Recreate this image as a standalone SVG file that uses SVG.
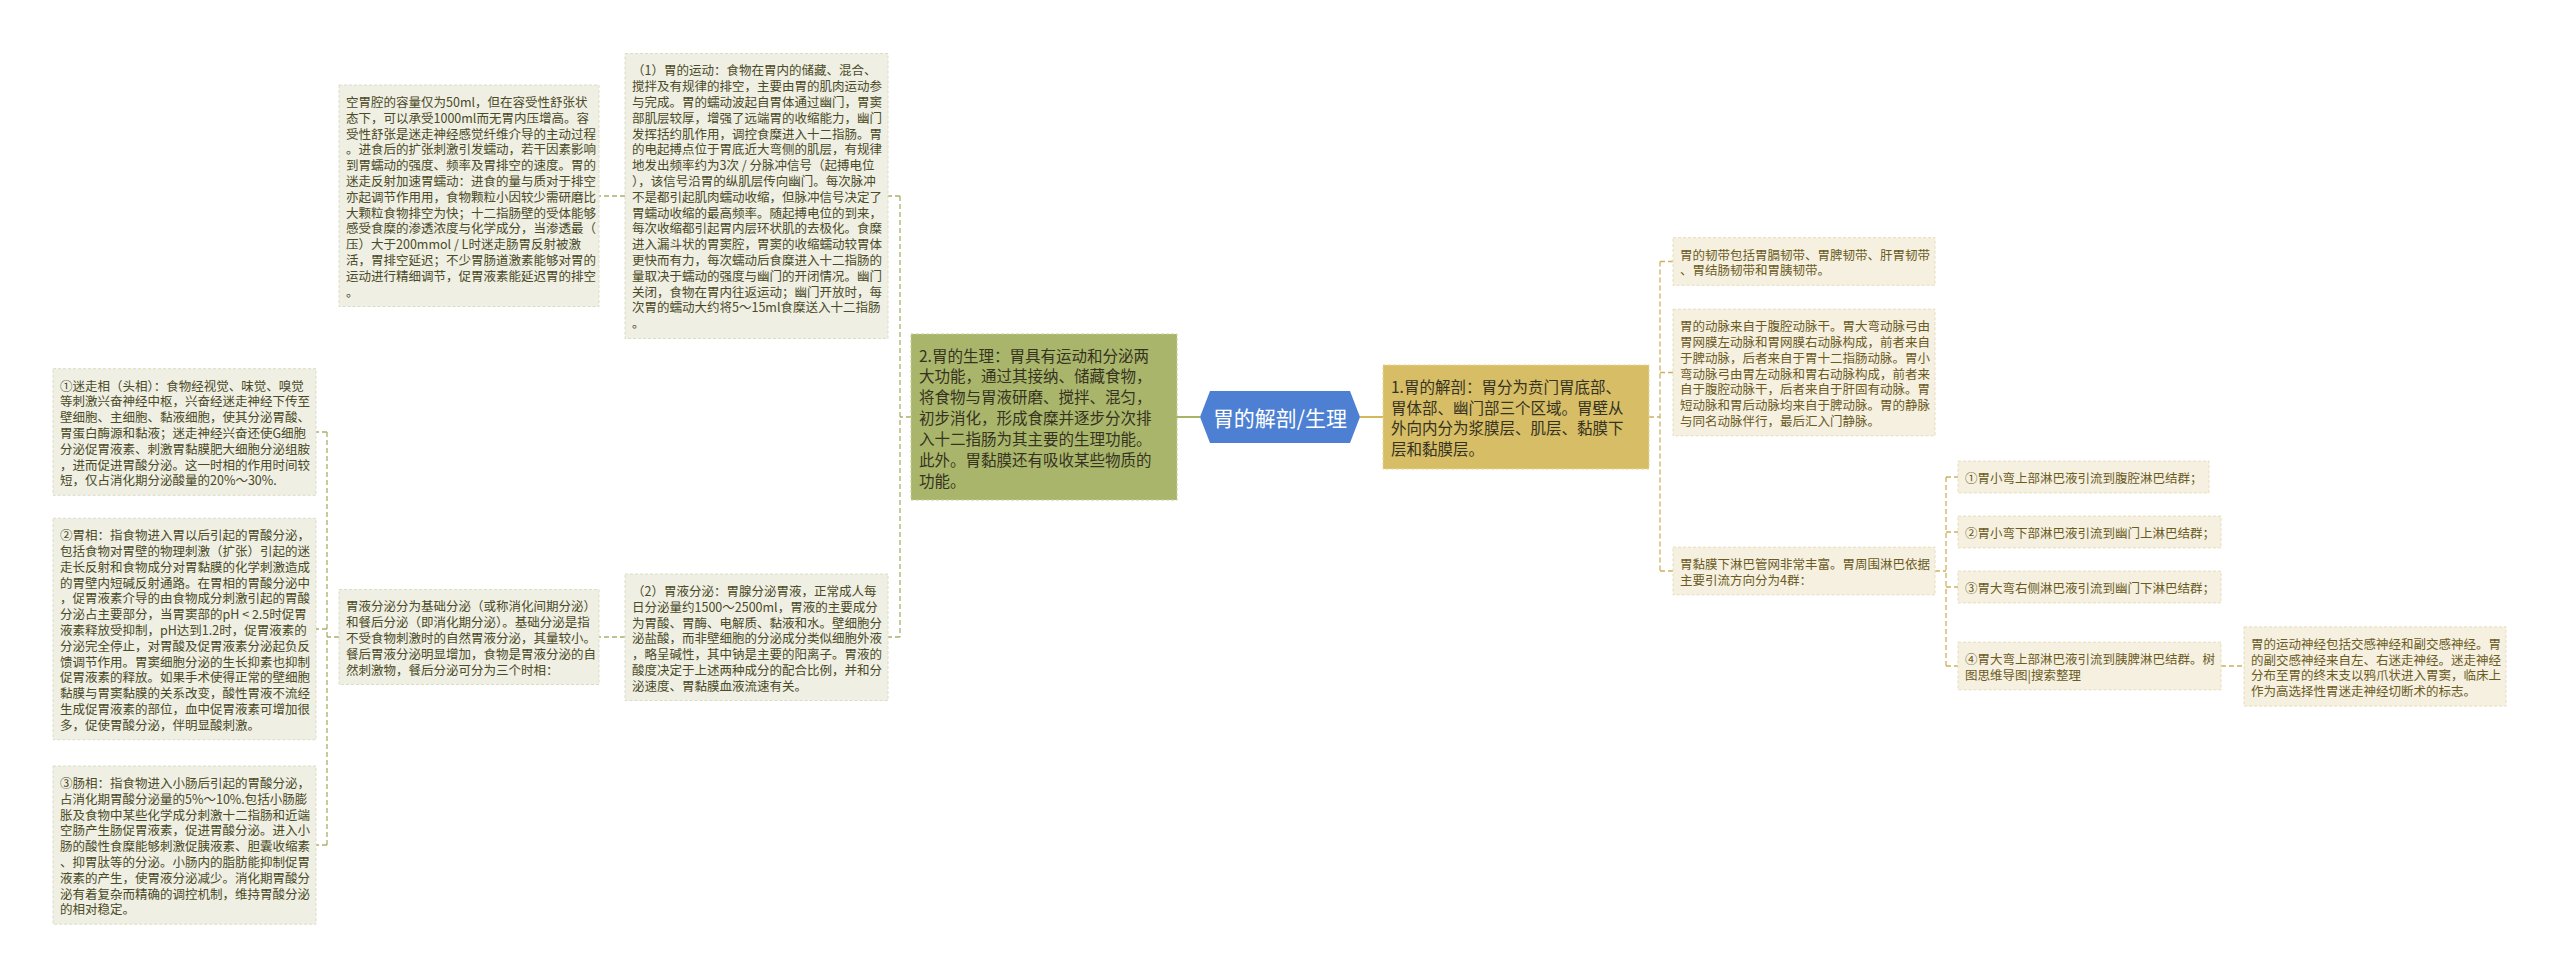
<svg xmlns="http://www.w3.org/2000/svg" width="2560" height="977" viewBox="0 0 2560 977">
<style>
text{font-family:"Noto Sans CJK SC","Noto Sans",sans-serif;dominant-baseline:central}
.s{font-size:12.5px}
.l{fill:#4a4a26}
.r{fill:#6b5b1f}
.big{font-size:15.5px;fill:#35331f}
.bl{fill:#efefe3;stroke:#dcdcc6;stroke-dasharray:3 2}
.br{fill:#f5f0df;stroke:#e6dcbc;stroke-dasharray:3 2}
.cl{fill:none;stroke:#aab06a;stroke-width:1.3;stroke-dasharray:5 3}
.cr{fill:none;stroke:#cdb15e;stroke-width:1.3;stroke-dasharray:5 3}
</style>
<rect width="2560" height="977" fill="#ffffff"/>
<g id="connectors">
<line x1="1200" y1="417" x2="1177" y2="417" stroke="#a9b46a" stroke-width="2"/>
<line x1="1360" y1="417" x2="1383" y2="417" stroke="#d4b85c" stroke-width="2"/>
<path class="cl" d="M911,417 H900 M900,196 V637 M900,196 H888 M900,637 H888"/>
<path class="cl" d="M625,196 H599"/>
<path class="cl" d="M625,637 H599"/>
<path class="cl" d="M339,637 H327 M327,432 V845 M327,432 H316 M327,629 H316 M327,845 H316"/>
<path class="cr" d="M1649,417 H1660 M1660,261.5 V571 M1660,261.5 H1673 M1660,372.5 H1673 M1660,571 H1673"/>
<path class="cr" d="M1935,571 H1946 M1946,477 V666 M1946,477 H1958 M1946,532 H1958 M1946,587 H1958 M1946,666 H1958"/>
<path class="cr" d="M2221,666 H2244"/>
</g>
<g id="root">
<polygon points="1200,417 1210,391 1350,391 1360,417 1350,443 1210,443" fill="#4d80d3"/>
<text x="1280" y="417" text-anchor="middle" style="font-size:21px;fill:#ffffff">胃的解剖/生理</text>
</g>
<g id="physiology">
<rect x="911" y="334" width="266" height="166" fill="#a9b56b" stroke="#c8cf94" stroke-dasharray="3 2"/>
<text class="big"><tspan x="919" y="354.5">2.胃的生理：胃具有运动和分泌两</tspan><tspan x="919" y="375.4">大功能，通过其接纳、储藏食物，</tspan><tspan x="919" y="396.3">将食物与胃液研磨、搅拌、混匀，</tspan><tspan x="919" y="417.2">初步消化，形成食糜并逐步分次排</tspan><tspan x="919" y="438.1">入十二指肠为其主要的生理功能。</tspan><tspan x="919" y="459">此外。胃黏膜还有吸收某些物质的</tspan><tspan x="919" y="479.9">功能。</tspan></text>
</g>
<g id="anatomy">
<rect x="1383" y="365" width="266" height="104" fill="#d6bd66" stroke="#e8d79a" stroke-dasharray="3 2"/>
<text class="big"><tspan x="1391" y="385.6">1.胃的解剖：胃分为贲门胃底部、</tspan><tspan x="1391" y="406.5">胃体部、幽门部三个区域。胃壁从</tspan><tspan x="1391" y="427.4">外向内分为浆膜层、肌层、黏膜下</tspan><tspan x="1391" y="448.3">层和黏膜层。</tspan></text>
</g>
<g id="motility">
<rect class="bl" x="625" y="53.5" width="263" height="285"/>
<text class="s l"><tspan x="632" y="69.4">（1）胃的运动：食物在胃内的储藏、混合、</tspan><tspan x="632" y="85.2">搅拌及有规律的排空，主要由胃的肌肉运动参</tspan><tspan x="632" y="101">与完成。胃的蠕动波起自胃体通过幽门，胃窦</tspan><tspan x="632" y="116.8">部肌层较厚，增强了远端胃的收缩能力，幽门</tspan><tspan x="632" y="132.6">发挥括约肌作用，调控食糜进入十二指肠。胃</tspan><tspan x="632" y="148.4">的电起搏点位于胃底近大弯侧的肌层，有规律</tspan><tspan x="632" y="164.2">地发出频率约为3次 / 分脉冲信号（起搏电位</tspan><tspan x="632" y="180">），该信号沿胃的纵肌层传向幽门。每次脉冲</tspan><tspan x="632" y="195.8">不是都引起肌肉蠕动收缩，但脉冲信号决定了</tspan><tspan x="632" y="211.6">胃蠕动收缩的最高频率。随起搏电位的到来，</tspan><tspan x="632" y="227.4">每次收缩都引起胃内层环状肌的去极化。食糜</tspan><tspan x="632" y="243.2">进入漏斗状的胃窦腔，胃窦的收缩蠕动较胃体</tspan><tspan x="632" y="259">更快而有力，每次蠕动后食糜进入十二指肠的</tspan><tspan x="632" y="274.8">量取决于蠕动的强度与幽门的开闭情况。幽门</tspan><tspan x="632" y="290.6">关闭，食物在胃内往返运动；幽门开放时，每</tspan><tspan x="632" y="306.4">次胃的蠕动大约将5～15ml食糜送入十二指肠</tspan><tspan x="632" y="322.2">。</tspan></text>
</g>
<g id="capacity">
<rect class="bl" x="339" y="85" width="260" height="221.5"/>
<text class="s l"><tspan x="346" y="100.9">空胃腔的容量仅为50ml，但在容受性舒张状</tspan><tspan x="346" y="116.7">态下，可以承受1000ml而无胃内压增高。容</tspan><tspan x="346" y="132.5">受性舒张是迷走神经感觉纤维介导的主动过程</tspan><tspan x="346" y="148.3">。进食后的扩张刺激引发蠕动，若干因素影响</tspan><tspan x="346" y="164.1">到胃蠕动的强度、频率及胃排空的速度。胃的</tspan><tspan x="346" y="179.9">迷走反射加速胃蠕动：进食的量与质对于排空</tspan><tspan x="346" y="195.7">亦起调节作用用，食物颗粒小因较少需研磨比</tspan><tspan x="346" y="211.5">大颗粒食物排空为快；十二指肠壁的受体能够</tspan><tspan x="346" y="227.3">感受食糜的渗透浓度与化学成分，当渗透最（</tspan><tspan x="346" y="243.1">压）大于200mmol / L时迷走肠胃反射被激</tspan><tspan x="346" y="258.9">活，胃排空延迟；不少胃肠道激素能够对胃的</tspan><tspan x="346" y="274.7">运动进行精细调节，促胃液素能延迟胃的排空</tspan><tspan x="346" y="290.5">。</tspan></text>
</g>
<g id="secretion">
<rect class="bl" x="625" y="574" width="263" height="126.5"/>
<text class="s l"><tspan x="632" y="589.9">（2）胃液分泌：胃腺分泌胃液，正常成人每</tspan><tspan x="632" y="605.7">日分泌量约1500～2500ml，胃液的主要成分</tspan><tspan x="632" y="621.5">为胃酸、胃酶、电解质、黏液和水。壁细胞分</tspan><tspan x="632" y="637.3">泌盐酸，而非壁细胞的分泌成分类似细胞外液</tspan><tspan x="632" y="653.1">，略呈碱性，其中钠是主要的阳离子。胃液的</tspan><tspan x="632" y="668.9">酸度决定于上述两种成分的配合比例，并和分</tspan><tspan x="632" y="684.7">泌速度、胃黏膜血液流速有关。</tspan></text>
</g>
<g id="secretion-types">
<rect class="bl" x="339" y="589.5" width="260" height="95"/>
<text class="s l"><tspan x="346" y="605.4">胃液分泌分为基础分泌（或称消化间期分泌）</tspan><tspan x="346" y="621.2">和餐后分泌（即消化期分泌）。基础分泌是指</tspan><tspan x="346" y="637">不受食物刺激时的自然胃液分泌，其量较小。</tspan><tspan x="346" y="652.8">餐后胃液分泌明显增加，食物是胃液分泌的自</tspan><tspan x="346" y="668.6">然刺激物，餐后分泌可分为三个时相：</tspan></text>
</g>
<g id="phase-vagal">
<rect class="bl" x="53" y="368.7" width="263" height="126.6"/>
<text class="s l"><tspan x="60" y="384.6">①迷走相（头相）：食物经视觉、味觉、嗅觉</tspan><tspan x="60" y="400.4">等刺激兴奋神经中枢，兴奋经迷走神经下传至</tspan><tspan x="60" y="416.2">壁细胞、主细胞、黏液细胞，使其分泌胃酸、</tspan><tspan x="60" y="432">胃蛋白酶源和黏液；迷走神经兴奋还使G细胞</tspan><tspan x="60" y="447.8">分泌促胃液素、刺激胃黏膜肥大细胞分泌组胺</tspan><tspan x="60" y="463.6">，进而促进胃酸分泌。这一时相的作用时间较</tspan><tspan x="60" y="479.4">短，仅占消化期分泌酸量的20%～30%.</tspan></text>
</g>
<g id="phase-gastric">
<rect class="bl" x="53" y="518.3" width="263" height="221.4"/>
<text class="s l"><tspan x="60" y="534.2">②胃相：指食物进入胃以后引起的胃酸分泌，</tspan><tspan x="60" y="550">包括食物对胃壁的物理刺激（扩张）引起的迷</tspan><tspan x="60" y="565.8">走长反射和食物成分对胃黏膜的化学刺激造成</tspan><tspan x="60" y="581.6">的胃壁内短碱反射通路。在胃相的胃酸分泌中</tspan><tspan x="60" y="597.4">，促胃液素介导的由食物成分刺激引起的胃酸</tspan><tspan x="60" y="613.2">分泌占主要部分，当胃窦部的pH &lt; 2.5时促胃</tspan><tspan x="60" y="629">液素释放受抑制，pH达到1.2时，促胃液素的</tspan><tspan x="60" y="644.8">分泌完全停止，对胃酸及促胃液素分泌起负反</tspan><tspan x="60" y="660.6">馈调节作用。胃窦细胞分泌的生长抑素也抑制</tspan><tspan x="60" y="676.4">促胃液素的释放。如果手术使得正常的壁细胞</tspan><tspan x="60" y="692.2">黏膜与胃窦黏膜的关系改变，酸性胃液不流经</tspan><tspan x="60" y="708">生成促胃液素的部位，血中促胃液素可增加很</tspan><tspan x="60" y="723.8">多，促使胃酸分泌，伴明显酸刺激。</tspan></text>
</g>
<g id="phase-intestinal">
<rect class="bl" x="53" y="766" width="263" height="158.2"/>
<text class="s l"><tspan x="60" y="781.9">③肠相：指食物进入小肠后引起的胃酸分泌，</tspan><tspan x="60" y="797.7">占消化期胃酸分泌量的5%～10%.包括小肠膨</tspan><tspan x="60" y="813.5">胀及食物中某些化学成分刺激十二指肠和近端</tspan><tspan x="60" y="829.3">空肠产生肠促胃液素，促进胃酸分泌。进入小</tspan><tspan x="60" y="845.1">肠的酸性食糜能够刺激促胰液素、胆囊收缩素</tspan><tspan x="60" y="860.9">、抑胃肽等的分泌。小肠内的脂肪能抑制促胃</tspan><tspan x="60" y="876.7">液素的产生，使胃液分泌减少。消化期胃酸分</tspan><tspan x="60" y="892.5">泌有着复杂而精确的调控机制，维持胃酸分泌</tspan><tspan x="60" y="908.3">的相对稳定。</tspan></text>
</g>
<g id="ligaments">
<rect class="br" x="1673" y="237.7" width="262" height="47.6"/>
<text class="s r"><tspan x="1680" y="253.6">胃的韧带包括胃膈韧带、胃脾韧带、肝胃韧带</tspan><tspan x="1680" y="269.4">、胃结肠韧带和胃胰韧带。</tspan></text>
</g>
<g id="arteries">
<rect class="br" x="1673" y="309.2" width="262" height="126.6"/>
<text class="s r"><tspan x="1680" y="325.1">胃的动脉来自于腹腔动脉干。胃大弯动脉弓由</tspan><tspan x="1680" y="340.9">胃网膜左动脉和胃网膜右动脉构成，前者来自</tspan><tspan x="1680" y="356.7">于脾动脉，后者来自于胃十二指肠动脉。胃小</tspan><tspan x="1680" y="372.5">弯动脉弓由胃左动脉和胃右动脉构成，前者来</tspan><tspan x="1680" y="388.3">自于腹腔动脉干，后者来自于肝固有动脉。胃</tspan><tspan x="1680" y="404.1">短动脉和胃后动脉均来自于脾动脉。胃的静脉</tspan><tspan x="1680" y="419.9">与同名动脉伴行，最后汇入门静脉。</tspan></text>
</g>
<g id="lymph">
<rect class="br" x="1673" y="547.2" width="262" height="47.6"/>
<text class="s r"><tspan x="1680" y="563.1">胃黏膜下淋巴管网非常丰富。胃周围淋巴依据</tspan><tspan x="1680" y="578.9">主要引流方向分为4群：</tspan></text>
</g>
<g id="lymph-1">
<rect class="br" x="1958" y="461.1" width="251" height="31.8"/>
<text class="s r" x="1965" y="477">①胃小弯上部淋巴液引流到腹腔淋巴结群；</text>
</g>
<g id="lymph-2">
<rect class="br" x="1958" y="516.1" width="263" height="31.8"/>
<text class="s r" x="1965" y="532">②胃小弯下部淋巴液引流到幽门上淋巴结群；</text>
</g>
<g id="lymph-3">
<rect class="br" x="1958" y="571.1" width="263" height="31.8"/>
<text class="s r" x="1965" y="587">③胃大弯右侧淋巴液引流到幽门下淋巴结群；</text>
</g>
<g id="lymph-4">
<rect class="br" x="1958" y="642.2" width="263" height="47.6"/>
<text class="s r"><tspan x="1965" y="658.1">④胃大弯上部淋巴液引流到胰脾淋巴结群。树</tspan><tspan x="1965" y="673.9">图思维导图|搜索整理</tspan></text>
</g>
<g id="nerves">
<rect class="br" x="2244" y="626.9" width="262" height="79.2"/>
<text class="s r"><tspan x="2251" y="642.8">胃的运动神经包括交感神经和副交感神经。胃</tspan><tspan x="2251" y="658.6">的副交感神经来自左、右迷走神经。迷走神经</tspan><tspan x="2251" y="674.4">分布至胃的终末支以鸦爪状进入胃窦，临床上</tspan><tspan x="2251" y="690.2">作为高选择性胃迷走神经切断术的标志。</tspan></text>
</g>
</svg>
